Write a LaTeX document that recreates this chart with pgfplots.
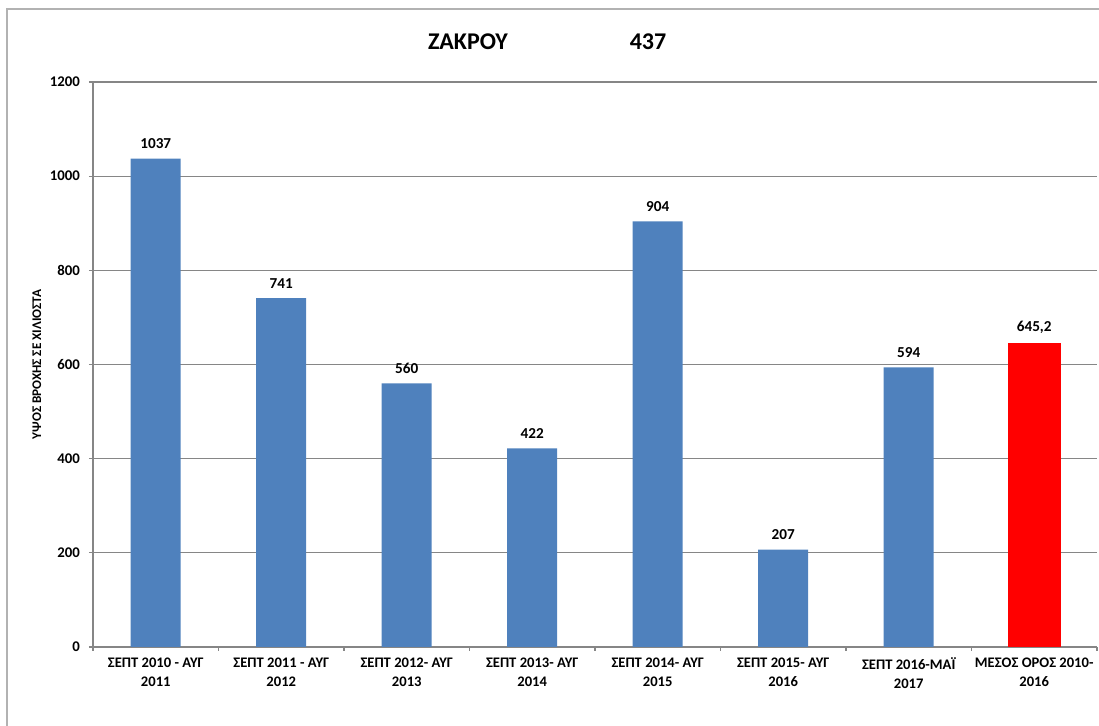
\documentclass[border=0pt]{standalone}
\usepackage{pgfplots}
\pgfplotsset{compat=1.18}
\usepackage{fontspec}
\setmainfont{Carlito}
\definecolor{barblue}{HTML}{4F81BD}
\definecolor{gridgray}{HTML}{868686}
\begin{document}
\begin{tikzpicture}
\path[use as bounding box] (0,0) rectangle (549.5pt,363pt);
\draw[gray!60, line width=0.8pt] (3.5pt,-5pt) -- (3.5pt,358.5pt) -- (560pt,358.5pt);
\node[font=\bfseries\fontsize{12}{14}\selectfont] at (234pt,342pt) {ΖΑΚΡΟΥ};
\node[font=\bfseries\fontsize{12}{14}\selectfont] at (324pt,342pt) {437};
\begin{axis}[
  at={(46.5pt,39.5pt)}, anchor=south west,
  scale only axis, width=502pt, height=282.5pt,
  ymin=0, ymax=1200, ytick={0,200,...,1200},
  xmin=-0.5, xmax=7.5,
  axis x line=bottom, axis y line=left,
  axis line style={-, gridgray, line width=0.6pt},
  ymajorgrids, grid style={gridgray, line width=0.6pt},
  tick align=outside, major tick length=2pt,
  tick style={gridgray, line width=0.6pt},
  xtick={-0.5,0.5,...,7.5}, xticklabels={},
  extra x ticks={0,1,2,3,4,5,6,7},
  extra x tick labels={{ΣΕΠΤ 2010 - ΑΥΓ\\2011},{ΣΕΠΤ 2011 - ΑΥΓ\\2012},{ΣΕΠΤ 2012- ΑΥΓ\\2013},{ΣΕΠΤ 2013- ΑΥΓ\\2014},{ΣΕΠΤ 2014- ΑΥΓ\\2015},{ΣΕΠΤ 2015- ΑΥΓ\\2016},{ΣΕΠΤ 2016-ΜΑΪ\\2017},{ΜΕΣΟΣ ΟΡΟΣ 2010-\\2016}},
  extra x tick style={major tick length=0pt, grid=none,
    xticklabel style={align=center, font=\bfseries\fontsize{7.3}{9.5}\selectfont, yshift=-2pt}},
  /pgf/number format/assume math mode=true,
  /pgf/number format/1000 sep={},
  yticklabel style={font=\bfseries\fontsize{7.4}{8}\selectfont, xshift=-1pt},
  ylabel={ΥΨΟΣ ΒΡΟΧΗΣ ΣΕ ΧΙΛΙΟΣΤΑ},
  ylabel style={at={(axis description cs:-0.056,0.5)}, anchor=center, font=\bfseries\fontsize{6.6}{8}\selectfont},
  clip=false,
]
\addplot[ybar, bar shift=0pt, bar width=25pt, fill=barblue, draw=none,
  nodes near coords, point meta=explicit symbolic,
  nodes near coords style={font=\bfseries\fontsize{7.6}{9}\selectfont, yshift=1.5pt}]
  coordinates {(0,1037)[1037] (1,741)[741] (2,560)[560] (3,422)[422] (4,904)[904] (5,207)[207] (6,594)[594]};
\addplot[ybar, bar shift=0pt, bar width=26.5pt, fill=red, draw=none,
  nodes near coords, point meta=explicit symbolic,
  nodes near coords style={font=\bfseries\fontsize{7.6}{9}\selectfont, yshift=1.5pt}]
  coordinates {(7,645.2)[645,2]};
\end{axis}
\end{tikzpicture}
\end{document}
